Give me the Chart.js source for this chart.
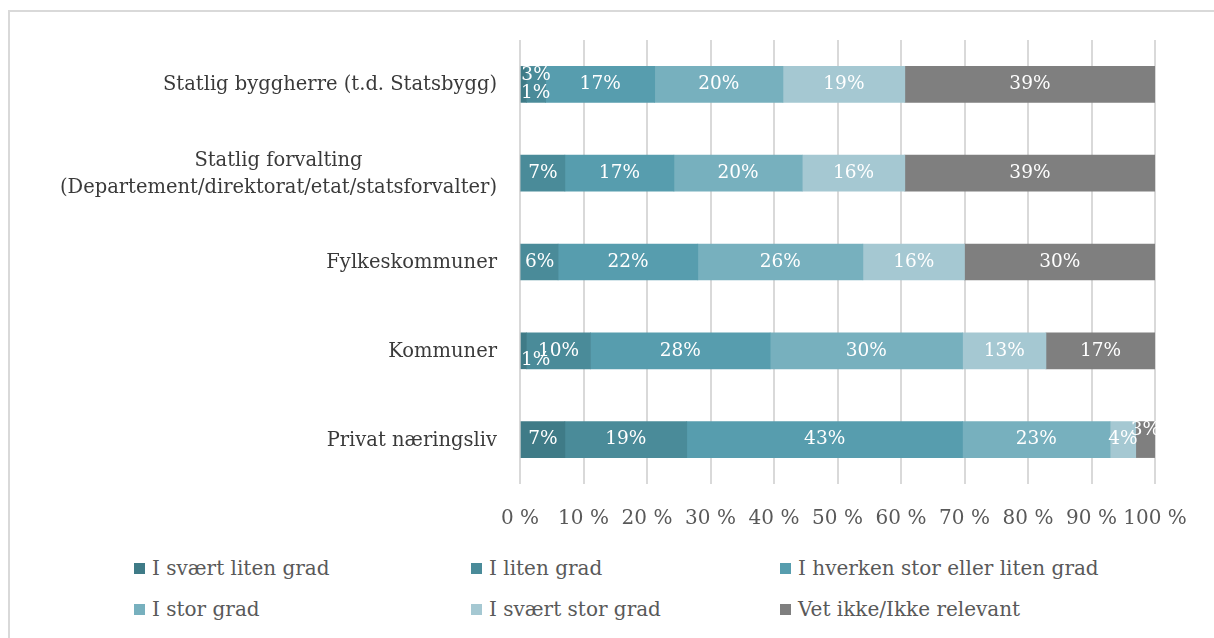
<!DOCTYPE html>
<html>
<head>
<meta charset="utf-8">
<script src="https://cdn.jsdelivr.net/npm/chart.js@4"></script>
<style>
  body { margin: 0; background: #fff; }
  #ramme { position: absolute; left: 8px; top: 10px; width: 1210px; height: 640px; border: 2px solid #d9d9d9; box-sizing: border-box; }
  #boks { position: absolute; left: 10px; top: 12px; width: 1200px; height: 520px; }
  #legende { position: absolute; left: 0; top: 0; font-family: "DejaVu Serif", serif; font-size: 20px; color: #595959; }
  .post { position: absolute; white-space: nowrap; line-height: 22px; }
  .post span { display: inline-block; width: 11px; height: 11px; margin-right: 7px; vertical-align: 1px; }
</style>
</head>
<body>
<div id="ramme"></div>
<div id="boks"><canvas id="grafikk"></canvas></div>
<div id="legende"></div>
<script>
// Kategorier (y-aksen)
const kategorier = [
  "Statlig byggherre (t.d. Statsbygg)",
  ["Statlig forvalting", "(Departement/direktorat/etat/statsforvalter)"],
  "Fylkeskommuner",
  "Kommuner",
  "Privat næringsliv"
];

// Svarkategorier og verdier (prosent, lest av figuren)
const serier = [
  "I svært liten grad",
  "I liten grad",
  "I hverken stor eller liten grad",
  "I stor grad",
  "I svært stor grad",
  "Vet ikke/Ikke relevant"
];
const sværtLiten = [1, 0, 0, 1, 7];
const liten = [3, 7, 6, 10, 19];
const hverken = [17, 17, 22, 28, 43];
const stor = [20, 20, 26, 30, 23];
const sværtStor = [19, 16, 16, 13, 4];
const vetIkke = [39, 39, 30, 17, 3];

const xTikk = [0, 10, 20, 30, 40, 50, 60, 70, 80, 90, 100];

const farger = ["#3f7b87", "#4a8b99", "#579dae", "#77b0be", "#a5c8d2", "#7f7f7f"];
const verdier = [sværtLiten, liten, hverken, stor, sværtStor, vetIkke];

// 100 % stablet: hver kategori skaleres mot sin egen sum
const summer = kategorier.map((k, i) => verdier.reduce((s, v) => s + v[i], 0));

const font = "DejaVu Serif";

// Verdietiketter inne i stolpene
const etiketter = {
  id: "etiketter",
  afterDatasetsDraw(chart) {
    const ctx = chart.ctx;
    const venstre = chart.chartArea.left;
    ctx.save();
    ctx.font = "18.5px '" + font + "'";
    ctx.fillStyle = "#ffffff";
    ctx.textAlign = "center";
    ctx.textBaseline = "middle";
    chart.data.datasets.forEach((ds, d) => {
      const meta = chart.getDatasetMeta(d);
      meta.data.forEach((el, i) => {
        const v = ds.raw[i];
        if (!v) return;
        const tekst = v + "%";
        const b = ctx.measureText(tekst).width;
        let dy = 0;
        if (v <= 3) dy = d === 0 ? 9 : -9;
        // hold etiketten innenfor plottet på venstre side
        const x = Math.max((el.x + el.base) / 2, venstre + b / 2 + 1);
        ctx.fillText(tekst, x, el.y + dy);
      });
    });
    ctx.restore();
  }
};

// Kategorinavn: linjene sentreres mot hverandre, blokken høyrejusteres
const kategoriTekst = {
  id: "kategoriTekst",
  afterDraw(chart) {
    const ctx = chart.ctx;
    const y = chart.scales.y;
    const hoyre = chart.chartArea.left - 23;
    ctx.save();
    ctx.font = "19.5px '" + font + "'";
    ctx.fillStyle = "#3a3a3a";
    ctx.textAlign = "center";
    ctx.textBaseline = "middle";
    kategorier.forEach((k, i) => {
      const linjer = Array.isArray(k) ? k : [k];
      const bredde = Math.max(...linjer.map(l => ctx.measureText(l).width));
      const midt = y.getPixelForValue(i);
      const lh = 27;
      linjer.forEach((l, j) => {
        ctx.fillText(l, hoyre - bredde / 2, midt + 1 + (j - (linjer.length - 1) / 2) * lh);
      });
    });
    ctx.restore();
  }
};

new Chart(document.getElementById("grafikk"), {
  type: "bar",
  data: {
    labels: kategorier.map(k => Array.isArray(k) ? k.join(" ") : k),
    datasets: serier.map((navn, s) => ({
      label: navn,
      raw: verdier[s],
      data: verdier[s].map((v, i) => v * 100 / summer[i]),
      backgroundColor: farger[s],
      borderWidth: 0,
      barThickness: 36
    }))
  },
  options: {
    indexAxis: "y",
    responsive: true,
    maintainAspectRatio: false,
    animation: false,
    layout: { padding: { top: 28, right: 55, left: 0, bottom: 0 } },
    plugins: {
      legend: { display: false },
      tooltip: { enabled: false }
    },
    scales: {
      x: {
        stacked: true,
        min: 0,
        max: 100,
        border: { display: false },
        grid: { color: "#d9d9d9", lineWidth: 2, drawTicks: false },
        afterBuildTicks: (sk) => { sk.ticks = xTikk.map(v => ({ value: v })); },
        ticks: {
          padding: 23,
          color: "#595959",
          font: { family: font, size: 20 },
          maxRotation: 0,
          autoSkip: false,
          callback: (v) => v + " %"
        },
        afterFit: (sk) => { sk.height = 48; }
      },
      y: {
        stacked: true,
        border: { display: false },
        grid: { display: false },
        ticks: { display: false },
        afterFit: (sk) => { sk.width = 510; }
      }
    }
  },
  plugins: [etiketter, kategoriTekst]
});

// Egen forklaring i tre kolonner, som i originalen
const legende = document.getElementById("legende");
const kolonner = [134, 471, 780];
const rader = [568, 609];
serier.forEach((navn, s) => {
  const el = document.createElement("div");
  el.className = "post";
  el.style.left = kolonner[s % 3] + "px";
  el.style.top = (rader[Math.floor(s / 3)] - 11) + "px";
  el.innerHTML = '<span style="background:' + farger[s] + '"></span>';
  el.appendChild(document.createTextNode(navn));
  legende.appendChild(el);
});
</script>
</body>
</html>
